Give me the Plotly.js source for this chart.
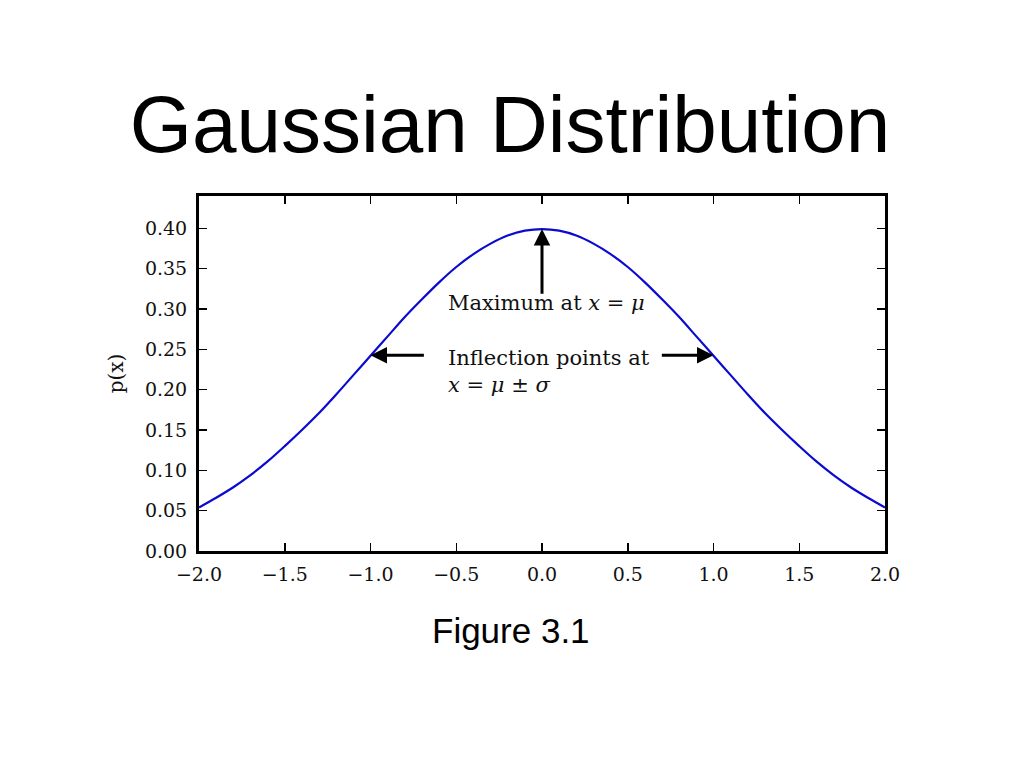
<!DOCTYPE html>
<html>
<head>
<meta charset="utf-8">
<script src="https://cdn.plot.ly/plotly-3.0.1.min.js"></script>
<style>html,body{margin:0;padding:0;background:#fff;}#chart{width:1024px;height:768px;}</style>
</head>
<body>
<div id="chart"></div>
<script>
// Values
const xValues = [-2.0,-1.9,-1.8,-1.7,-1.6,-1.5,-1.4,-1.3,-1.2,-1.1,-1.0,-0.9,-0.8,-0.7,-0.6,-0.5,-0.4,-0.3,-0.2,-0.1,0.0,
                  0.1,0.2,0.3,0.4,0.5,0.6,0.7,0.8,0.9,1.0,1.1,1.2,1.3,1.4,1.5,1.6,1.7,1.8,1.9,2.0];
const pValues = [0.054,0.066,0.079,0.094,0.111,0.130,0.150,0.171,0.194,0.218,0.242,0.266,0.290,0.312,0.333,0.352,0.368,0.381,0.391,0.397,0.399,
                 0.397,0.391,0.381,0.368,0.352,0.333,0.312,0.290,0.266,0.242,0.218,0.194,0.171,0.150,0.130,0.111,0.094,0.079,0.066,0.054];
const xTickVals = [-2.0,-1.5,-1.0,-0.5,0.0,0.5,1.0,1.5,2.0];
const yTickVals = [0.00,0.05,0.10,0.15,0.20,0.25,0.30,0.35,0.40];
const titleText = "Gaussian Distribution";
const captionText = "Figure 3.1";
const yLabel = "p(x)";
const maxLabel = "Maximum at <i>x</i> = <i>μ</i>";
const inflLabel = "Inflection points at<br><i>x</i> = <i>μ</i> ± <i>σ</i>";
const peak = {x: 0.0, y: 0.399};
const inflLeft = {x: -1.0, y: 0.242};
const inflRight = {x: 1.0, y: 0.242};

const serif = "DejaVu Serif, Liberation Serif, serif";
const sans = "Liberation Sans, Arial, sans-serif";

const trace = {
  x: xValues, y: pValues, type: 'scatter', mode: 'lines',
  line: {color: '#0a0ad0', width: 2.2, shape: 'spline'},
  hoverinfo: 'skip', showlegend: false
};

const axisCommon = {
  showgrid: false, zeroline: false,
  showline: true, linecolor: '#000', linewidth: 3,
  mirror: 'ticks', ticks: 'inside', ticklen: 8, tickwidth: 1.5, tickcolor: '#000',
  tickfont: {family: serif, size: 19, color: '#111'}
};

const arrow = (from, to) => ({
  x: to.x, y: to.y, ax: from.x, ay: from.y,
  xref: 'x', yref: 'y', axref: 'x', ayref: 'y',
  text: '', showarrow: true, arrowhead: 2, arrowsize: 1.1, arrowwidth: 3, arrowcolor: '#000',
  standoff: 0, startstandoff: 0
});

const layout = {
  width: 1024, height: 768,
  paper_bgcolor: '#fff', plot_bgcolor: '#fff',
  margin: {l: 199, r: 139, t: 196, b: 217},
  title: {
    text: titleText, font: {family: sans, size: 80, color: '#000'},
    x: 510/1024, xanchor: 'center', xref: 'container',
    y: 1 - 124/768, yanchor: 'middle', yref: 'container'
  },
  xaxis: Object.assign({}, axisCommon, {
    range: [-2, 2], tickvals: xTickVals, tickformat: '.1f', ticklabelstandoff: 4
  }),
  yaxis: Object.assign({}, axisCommon, {
    range: [0, 0.44], tickvals: yTickVals, tickformat: '.2f', ticklabelstandoff: 5,
    title: {text: yLabel, font: {family: serif, size: 20, color: '#111'}, standoff: 16}
  }),
  annotations: [
    arrow({x: 0.0, y: 0.317}, peak),
    arrow({x: -0.68, y: 0.2427}, {x: inflLeft.x, y: 0.2427}),
    arrow({x: 0.69, y: 0.2427}, {x: inflRight.x, y: 0.2427}),
    {x: -0.56, y: 0.308, xref: 'x', yref: 'y', text: maxLabel, showarrow: false,
     xanchor: 'left', yanchor: 'middle', font: {family: serif, size: 21, color: '#111'}},
    {x: -0.56, y: 0.257, xref: 'x', yref: 'y', text: inflLabel, showarrow: false, align: 'left',
     xanchor: 'left', yanchor: 'top', font: {family: serif, size: 21, color: '#111'}},
    {x: (511-199)/686, y: -(630-551)/355, xref: 'paper', yref: 'paper', text: captionText, showarrow: false,
     xanchor: 'center', yanchor: 'middle', font: {family: sans, size: 35, color: '#000'}}
  ]
};

Plotly.newPlot('chart', [trace], layout, {displayModeBar: false, staticPlot: true});
</script>
</body>
</html>
